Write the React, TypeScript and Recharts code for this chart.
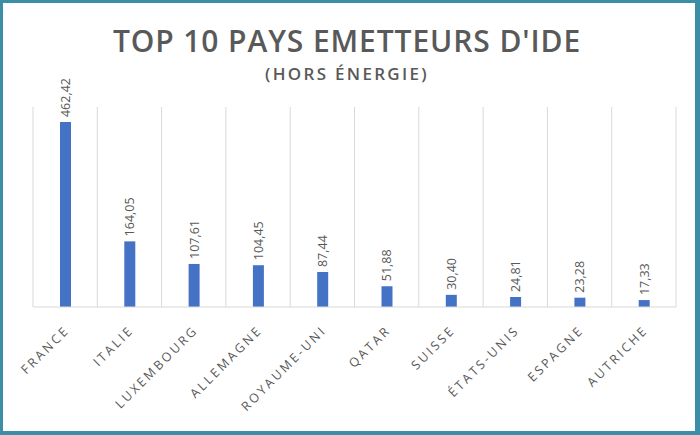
import React from 'react';
import { BarChart, Bar, XAxis, YAxis, CartesianGrid, LabelList } from 'recharts';

const countries = ['FRANCE', 'ITALIE', 'LUXEMBOURG', 'ALLEMAGNE', 'ROYAUME-UNI', 'QATAR', 'SUISSE', 'ÉTATS-UNIS', 'ESPAGNE', 'AUTRICHE'];
const values = [462.42, 164.05, 107.61, 104.45, 87.44, 51.88, 30.4, 24.81, 23.28, 17.33];

const data = countries.map((name, i) => ({ name, value: values[i] }));

const FONT = '"Open Sans", "DejaVu Sans", sans-serif';
const GREY = '#595959';

const fmt = (v: number) => v.toFixed(2).replace('.', ',');

function ValueLabel(props: any) {
  const { x, y, width, value } = props;
  const cx = x + width / 2;
  const ty = y - 5;
  return (
    <text
      x={cx}
      y={ty}
      transform={`rotate(-90, ${cx}, ${ty})`}
      textAnchor="start"
      dominantBaseline="central"
      fontSize={12.5}
      fontFamily={FONT}
      fill={GREY}
    >
      {fmt(value)}
    </text>
  );
}

function CountryTick(props: any) {
  const { x, y, payload } = props;
  const tx = x + 5;
  const ty = y + 16;
  return (
    <text
      x={tx}
      y={ty}
      transform={`rotate(-45, ${tx}, ${ty})`}
      textAnchor="end"
      fontSize={12.5}
      fontFamily={FONT}
      letterSpacing={2.6}
      fill={GREY}
    >
      {payload.value}
    </text>
  );
}

export default function App() {
  return (
    <div
      style={{
        position: 'absolute',
        left: 0,
        top: 0,
        width: 700,
        height: 435,
        boxSizing: 'border-box',
        borderStyle: 'solid',
        borderColor: '#3b8ea5',
        borderWidth: '3px 5px 4px 3px',
        background: '#fff',
        overflow: 'hidden',
      }}
    >
      <div
        style={{
          position: 'absolute',
          left: -6,
          top: 17,
          width: 700,
          textAlign: 'center',
          fontFamily: FONT,
          fontWeight: 600,
          fontSize: 30,
          color: GREY,
          letterSpacing: 0.9,
        }}
      >
        TOP 10 PAYS EMETTEURS D'IDE
      </div>
      <div
        style={{
          position: 'absolute',
          left: -6,
          top: 59,
          width: 700,
          textAlign: 'center',
          fontFamily: FONT,
          fontWeight: 600,
          fontSize: 17,
          color: GREY,
          letterSpacing: 2.3,
        }}
      >
        (HORS ÉNERGIE)
      </div>
      <div style={{ position: 'absolute', left: -3, top: -3 }}>
        <BarChart
          width={700}
          height={435}
          data={data}
          margin={{ top: 107, right: 24, bottom: 18, left: 33 }}
        >
          <CartesianGrid
            horizontal={false}
            stroke="#d9d9d9"
            verticalCoordinatesGenerator={({ offset }: any) =>
              data.map((_, i) => offset.left + (i * offset.width) / data.length).concat(offset.left + offset.width)
            }
          />
          <XAxis
            dataKey="name"
            interval={0}
            height={110}
            tickLine={false}
            axisLine={{ stroke: '#d9d9d9' }}
            tick={<CountryTick />}
          />
          <YAxis hide domain={[0, 500]} />
          <Bar dataKey="value" fill="#4472c4" barSize={11} isAnimationActive={false}>
            <LabelList dataKey="value" content={<ValueLabel />} />
          </Bar>
        </BarChart>
      </div>
    </div>
  );
}
